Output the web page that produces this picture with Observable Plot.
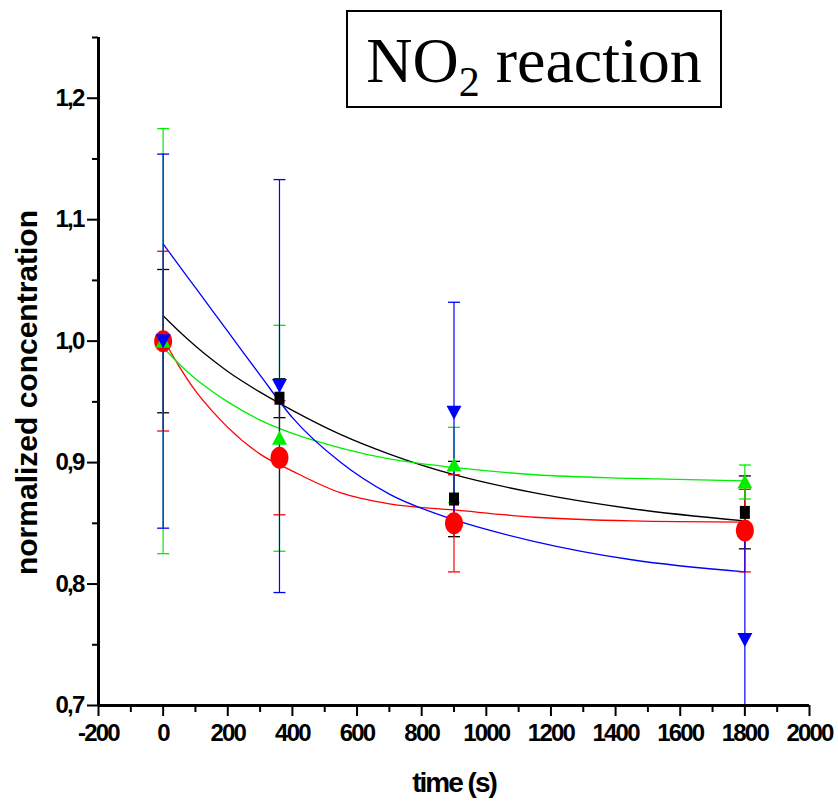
<!DOCTYPE html>
<html>
<head>
<meta charset="utf-8">
<script src="https://cdn.jsdelivr.net/npm/d3@7"></script>
<script src="https://cdn.jsdelivr.net/npm/@observablehq/plot@0.6"></script>
<style>
  html, body { margin: 0; padding: 0; background: #fff; }
  #wrap { position: relative; width: 838px; height: 807px; }
  #title {
    position: absolute; left: 346px; top: 10px; width: 376px; height: 98px;
    box-sizing: border-box; border: 2px solid #000; background: #fff;
    font-family: "Liberation Serif", "Times New Roman", serif; font-size: 64px;
    line-height: 1; text-align: center; padding-top: 17px; color: #000; white-space: nowrap;
  }
  #title sub { font-size: 42px; vertical-align: -14px; line-height: 0; }
</style>
</head>
<body>
<div id="wrap"><div id="chart"></div><div id="title">NO<sub>2</sub> reaction</div></div>
<script>
// measurement times (s)
const times = [0, 360, 900, 1800];

// series values and error half-widths
const blackY = [1.000, 0.953, 0.870, 0.859];
const blackErr = [0.059, 0.016, 0.031, 0.030];
const redY = [1.000, 0.904, 0.850, 0.844];
const redErr = [0.074, 0.047, 0.040, 0.034];
const greenY = [1.000, 0.920, 0.898, 0.884];
const greenErr = [0.175, 0.093, 0.031, 0.014];
const blueY = [1.000, 0.963, 0.941, 0.754];
const blueErr = [0.154, 0.170, 0.091, 0.092];

// fitted decay curves
const fitT = [0, 50, 100, 150, 200, 300, 400, 550, 700, 900, 1150, 1450, 1800];
const blackFit = [1.021, 1.008, 0.996, 0.985, 0.975, 0.958, 0.943, 0.923, 0.907, 0.890, 0.875, 0.862, 0.852];
const redFit = [1.002, 0.979, 0.959, 0.943, 0.929, 0.907, 0.893, 0.875, 0.866, 0.861, 0.855, 0.852, 0.851];
const greenFit = [0.995, 0.981, 0.969, 0.959, 0.950, 0.935, 0.924, 0.912, 0.903, 0.896, 0.890, 0.887, 0.885];
const blueFit = [1.080, 1.062, 1.044, 1.026, 1.008, 0.972, 0.937, 0.900, 0.874, 0.853, 0.835, 0.820, 0.810];

// axis ticks
const xMajor = [-200, 0, 200, 400, 600, 800, 1000, 1200, 1400, 1600, 1800, 2000];
const xMinor = [-100, 100, 300, 500, 700, 900, 1100, 1300, 1500, 1700, 1900];
const yMajor = [0.7, 0.8, 0.9, 1.0, 1.1, 1.2];
const yMinor = [0.75, 0.85, 0.95, 1.05, 1.15, 1.25];

const xLabel = "time (s)";
const yLabel = "normalized concentration";

// marker shapes
const squareSym = {draw(c) { c.rect(-5, -6.5, 10, 13); }};
const ellipseSym = {draw(c) {
  const rx = 9, ry = 11, k = 0.5523;
  c.moveTo(rx, 0);
  c.bezierCurveTo(rx, ry * k, rx * k, ry, 0, ry);
  c.bezierCurveTo(-rx * k, ry, -rx, ry * k, -rx, 0);
  c.bezierCurveTo(-rx, -ry * k, -rx * k, -ry, 0, -ry);
  c.bezierCurveTo(rx * k, -ry, rx, -ry * k, rx, 0);
  c.closePath();
}};
const triUpSym = {draw(c) { c.moveTo(0, -7.5); c.lineTo(7.5, 6.5); c.lineTo(-7.5, 6.5); c.closePath(); }};
const triDownSym = {draw(c) { c.moveTo(-7.5, -7); c.lineTo(7.5, -7); c.lineTo(0, 7); c.closePath(); }};
const capSym = {draw(c) { c.moveTo(-6, 0); c.lineTo(6, 0); }};

const series = [
  {name: "black", color: "#000000", y: blackY, err: blackErr, fit: blackFit, sym: squareSym},
  {name: "red", color: "#ff0000", y: redY, err: redErr, fit: redFit, sym: ellipseSym},
  {name: "green", color: "#00ee00", y: greenY, err: greenErr, fit: greenFit, sym: triUpSym},
  {name: "blue", color: "#0000ff", y: blueY, err: blueErr, fit: blueFit, sym: triDownSym}
];

const marks = [];
for (const s of series) {
  const rows = fitT.map((t, i) => ({t, v: s.fit[i]}));
  marks.push(Plot.line(rows, {x: "t", y: "v", stroke: s.color, strokeWidth: 1.3, curve: "monotone-x"}));
}
for (const s of series) {
  const pts = times.map((t, i) => ({t, v: s.y[i], lo: s.y[i] - s.err[i], hi: s.y[i] + s.err[i]}));
  const caps = pts.flatMap(p => [{t: p.t, v: p.lo}, {t: p.t, v: p.hi}]);
  marks.push(Plot.ruleX(pts, {x: "t", y1: "lo", y2: "hi", stroke: s.color, strokeWidth: 1.2, clip: true}));
  marks.push(Plot.dot(caps, {x: "t", y: "v", symbol: capSym, stroke: s.color, strokeWidth: 1.3, clip: true}));
}
for (const s of series) {
  const pts = times.map((t, i) => ({t, v: s.y[i]}));
  marks.push(Plot.dot(pts, {x: "t", y: "v", symbol: s.sym, fill: s.color, stroke: null}));
}

const tickFont = {fontSize: 24, fontWeight: "bold", fontFamily: "Liberation Sans, Arial, sans-serif"};

const chart = Plot.plot({
  width: 838,
  height: 807,
  marginLeft: 98,
  marginRight: 29,
  marginTop: 37,
  marginBottom: 102,
  style: {fontFamily: "Liberation Sans, Arial, sans-serif", background: "#fff", color: "#000", overflow: "visible"},
  x: {domain: [-200, 2000], axis: null, label: null},
  y: {domain: [0.7, 1.25], axis: null, label: null},
  marks: [
    ...marks,
    Plot.axisX(xMinor, {tickSize: 7, strokeWidth: 2, tickFormat: () => "", label: null}),
    Plot.axisY(yMinor, {tickSize: 6, strokeWidth: 2, tickFormat: () => "", label: null}),
    Plot.axisX(xMajor, {tickSize: 11, strokeWidth: 2, tickPadding: 7, tickFormat: d => String(d), label: null, ...tickFont}),
    Plot.axisY(yMajor, {tickSize: 11, strokeWidth: 2, tickPadding: 4, tickFormat: d => d.toFixed(1).replace(".", ","), label: null, ...tickFont}),
    Plot.ruleX([-200], {strokeWidth: 3}),
    Plot.ruleY([0.7], {strokeWidth: 3}),
    Plot.text([xLabel], {frameAnchor: "bottom", textAnchor: "middle", dy: 86, fontSize: 28, fontWeight: "bold", fill: "#000"}),
    Plot.text([yLabel], {frameAnchor: "left", textAnchor: "middle", dx: -71, dy: 21, rotate: -90, fontSize: 30, fontWeight: "bold", fill: "#000"})
  ]
});
document.getElementById("chart").appendChild(chart);
// condensed bold text like the original
chart.querySelectorAll("[aria-label='x-axis tick label'] text, [aria-label='y-axis tick label'] text").forEach(t => t.setAttribute("letter-spacing", "-1.8"));
chart.querySelectorAll("[aria-label='text'] text").forEach(t => {
  if (t.textContent === xLabel) t.setAttribute("letter-spacing", "-2");
});
</script>
</body>
</html>
